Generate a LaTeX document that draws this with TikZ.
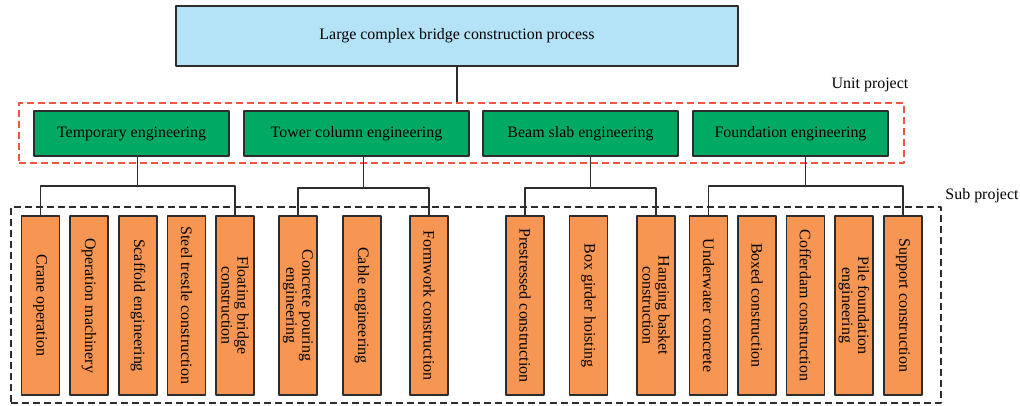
\documentclass[tikz,border=0pt]{standalone}
\usepackage{fontspec}
\setmainfont{Liberation Serif}
\definecolor{rootblue}{RGB}{180,227,248}
\definecolor{unitgreen}{RGB}{0,170,100}
\definecolor{suborange}{RGB}{246,150,82}
\definecolor{unitred}{RGB}{240,85,65}
\definecolor{edgegray}{RGB}{45,45,45}

\begin{document}
\begin{tikzpicture}[line join=bevel,
  font=\fontsize{16}{16}\selectfont,
  rootbox/.style={draw=edgegray,fill=rootblue,line width=1.3bp,minimum width=562bp,minimum height=60bp,inner sep=0bp},
  unitbox/.style={draw=edgegray,fill=unitgreen,line width=1.3bp,minimum height=45bp,inner sep=0bp},
  subbox/.style={draw=edgegray,fill=suborange,line width=1.3bp,rotate=-90,minimum width=179bp,minimum height=38bp,inner sep=0bp,align=center},
  unitframe/.style={draw=unitred,line width=1.1bp,dash pattern=on 7bp off 4bp,minimum width=885bp,minimum height=60bp,inner sep=0bp},
  subframe/.style={draw=edgegray,line width=1.1bp,dash pattern=on 7bp off 4bp,minimum width=930bp,minimum height=196bp,inner sep=0bp},
  conn/.style={draw=edgegray,line width=1.2bp},
]
\useasboundingbox (0bp,0bp) rectangle (1020bp,406bp);
%%
\node (unit_frame) at (461.5bp,273bp) [unitframe] {};
\node (sub_frame) at (476bp,101bp) [subframe] {};
\node (label_unit) at (870bp,321bp) {Unit project};
\node (label_sub) at (982bp,210bp) {Sub project};
%%
\node (node_root) at (457bp,370bp) [rootbox] {Large complex bridge construction process};
  \node (node_temp) at (131.5bp,272.5bp) [unitbox,minimum width=195bp] {Temporary engineering};
  \node (node_tower) at (356.5bp,272.5bp) [unitbox,minimum width=225bp] {Tower column engineering};
  \node (node_beam) at (580.5bp,272.5bp) [unitbox,minimum width=195bp] {Beam slab engineering};
  \node (node_found) at (790.5bp,272.5bp) [unitbox,minimum width=195bp] {Foundation engineering};
  \node (node_crane) at (40.3bp,100.5bp) [subbox] {Crane operation};
  \node (node_mach) at (89bp,100.5bp) [subbox] {Operation machinery};
  \node (node_scaf) at (138bp,100.5bp) [subbox] {Scaffold engineering};
  \node (node_trestle) at (186.5bp,100.5bp) [subbox] {Steel trestle construction};
  \node (node_float) at (235bp,100.5bp) [subbox] {Floating bridge\\construction};
  \node (node_pour) at (298bp,100.5bp) [subbox] {Concrete pouring\\engineering};
  \node (node_cable) at (362bp,100.5bp) [subbox] {Cable engineering};
  \node (node_form) at (429bp,100.5bp) [subbox] {Formwork construction};
  \node (node_prest) at (525bp,100.5bp) [subbox] {Prestressed construction};
  \node (node_girder) at (588.5bp,100.5bp) [subbox] {Box girder hoisting};
  \node (node_basket) at (656bp,100.5bp) [subbox] {Hanging basket\\construction};
  \node (node_under) at (708.5bp,100.5bp) [subbox] {Underwater concrete};
  \node (node_boxed) at (757bp,100.5bp) [subbox] {Boxed construction};
  \node (node_coffer) at (805.5bp,100.5bp) [subbox] {Cofferdam construction};
  \node (node_pile) at (854bp,100.5bp) [subbox] {Pile foundation\\engineering};
  \node (node_support) at (903bp,100.5bp) [subbox] {Support construction};
%%
\coordinate (bar_temp) at (137.6bp,220bp);
\coordinate (bar_tower) at (363.5bp,218bp);
\coordinate (bar_beam) at (590.5bp,218bp);
\coordinate (bar_found) at (805.7bp,220bp);
  \draw [conn] (node_root.south) -- (node_root.south |- unit_frame.north);
  \draw [conn] (bar_temp) -- (bar_temp |- node_temp.south);
  \draw [conn] (bar_tower) -- (bar_tower |- node_tower.south);
  \draw [conn] (bar_beam) -- (bar_beam |- node_beam.south);
  \draw [conn] (bar_found) -- (bar_found |- node_found.south);
  \draw [conn] (node_crane.west) |- (bar_temp) -| (node_float.west);
  \draw [conn] (node_pour.west) |- (bar_tower) -| (node_form.west);
  \draw [conn] (node_prest.west) |- (bar_beam) -| (node_basket.west);
  \draw [conn] (node_under.west) |- (bar_found) -| (node_support.west);
%
\end{tikzpicture}
\end{document}
